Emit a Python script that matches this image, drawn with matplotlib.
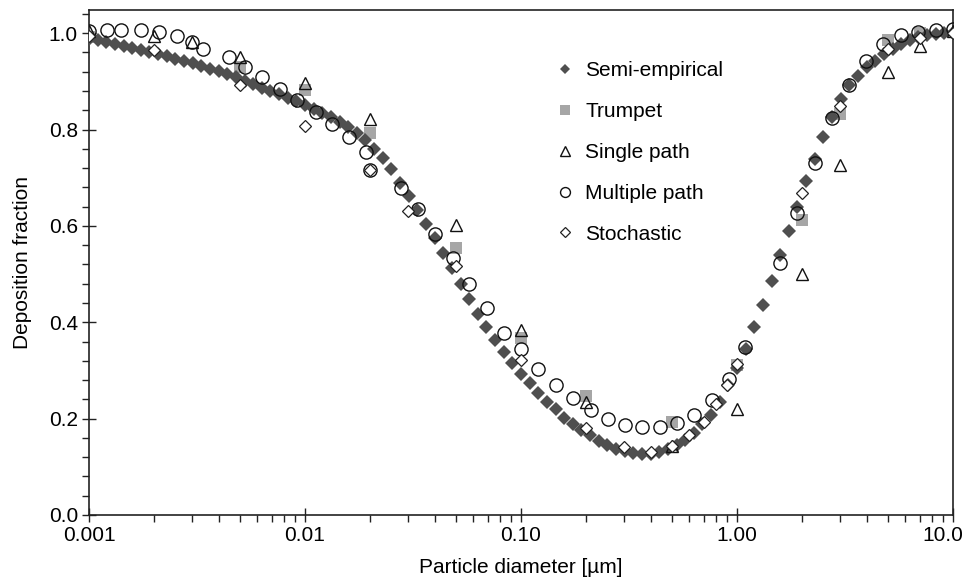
import numpy as np
import matplotlib
matplotlib.use("Agg")
import matplotlib.pyplot as plt
import matplotlib.transforms as mtransforms
from matplotlib.ticker import FixedLocator, FixedFormatter, LogLocator, AutoMinorLocator, NullFormatter

plt.rcParams['font.family'] = ['Liberation Sans', 'DejaVu Sans']

# ---- data ----
semi_x = np.logspace(-3, 1, 101)
semi_y = [0.988, 0.985, 0.981, 0.977, 0.973, 0.969, 0.965, 0.961, 0.956, 0.952,
          0.947, 0.942, 0.937, 0.932, 0.926, 0.921, 0.915, 0.908, 0.901, 0.894,
          0.887, 0.880, 0.873, 0.866, 0.859, 0.851, 0.843, 0.835, 0.826, 0.816,
          0.805, 0.792, 0.778, 0.760, 0.740, 0.717, 0.690, 0.662, 0.633, 0.604,
          0.574, 0.543, 0.512, 0.480, 0.448, 0.418, 0.390, 0.364, 0.339, 0.315,
          0.293, 0.273, 0.254, 0.235, 0.219, 0.202, 0.189, 0.177, 0.166, 0.154,
          0.145, 0.138, 0.132, 0.128, 0.126, 0.127, 0.130, 0.136, 0.145, 0.156,
          0.170, 0.188, 0.208, 0.235, 0.270, 0.305, 0.345, 0.390, 0.435, 0.485,
          0.540, 0.590, 0.640, 0.693, 0.738, 0.784, 0.826, 0.863, 0.892, 0.911,
          0.929, 0.943, 0.957, 0.968, 0.977, 0.986, 0.993, 0.996, 0.999, 1.000,
          1.000]

trumpet_x = [0.001, 0.005, 0.01, 0.02, 0.05, 0.1, 0.2, 0.5, 1.0, 2.0, 3.0, 5.0, 7.0]
trumpet_y = [0.992, 0.930, 0.883, 0.793, 0.555, 0.367, 0.247, 0.194, 0.311, 0.612, 0.833, 0.985, 1.0]

single_x = [0.001, 0.002, 0.003, 0.005, 0.01, 0.02, 0.05, 0.1, 0.2, 0.5, 1.0, 2.0, 3.0, 5.0, 7.0, 10.0]
single_y = [1.005, 0.994, 0.982, 0.951, 0.896, 0.821, 0.602, 0.384, 0.235, 0.143, 0.219, 0.501, 0.726, 0.920, 0.973, 1.005]

multi_x = [0.001, 0.00121, 0.00141, 0.00175, 0.00212, 0.00255, 0.0030, 0.00338, 0.00447,
           0.00527, 0.0063, 0.00766, 0.00916, 0.01125, 0.0133, 0.0160, 0.0192, 0.020,
           0.0277, 0.0335, 0.040, 0.0483, 0.0577, 0.0694, 0.0834, 0.1, 0.12, 0.145,
           0.175, 0.21, 0.252, 0.303, 0.364, 0.44, 0.526, 0.634, 0.763, 0.918, 1.09,
           1.58, 1.89, 2.30, 2.74, 3.31, 3.95, 4.75, 5.72, 6.9, 8.33, 10.0]
multi_y = [1.005, 1.007, 1.007, 1.007, 1.003, 0.995, 0.982, 0.968, 0.950,
           0.930, 0.908, 0.885, 0.862, 0.837, 0.811, 0.784, 0.754, 0.716,
           0.678, 0.634, 0.584, 0.533, 0.479, 0.429, 0.378, 0.344, 0.304, 0.270,
           0.243, 0.218, 0.200, 0.187, 0.182, 0.182, 0.190, 0.207, 0.239, 0.282, 0.349,
           0.522, 0.627, 0.730, 0.823, 0.892, 0.943, 0.977, 0.996, 1.003, 1.007, 1.008]

stoch_x = [0.001, 0.002, 0.005, 0.01, 0.02, 0.03, 0.05, 0.1, 0.2, 0.3, 0.4, 0.5,
           0.6, 0.7, 0.8, 0.9, 1.0, 2.0, 3.0, 5.0, 7.0, 10.0]
stoch_y = [0.995, 0.965, 0.893, 0.808, 0.715, 0.631, 0.517, 0.321, 0.180, 0.142, 0.131, 0.143,
           0.166, 0.194, 0.230, 0.270, 0.314, 0.669, 0.849, 0.968, 0.990, 1.0]

x_tick_vals = [0.001, 0.01, 0.1, 1.0, 10.0]
x_tick_labels = ["0.001", "0.01", "0.10", "1.00", "10.0"]
y_tick_vals = [0.0, 0.2, 0.4, 0.6, 0.8, 1.0]

# ---- figure ----
fig = plt.figure(figsize=(9.7, 5.8), dpi=100)
ax = fig.add_axes([89/970, 1 - 515/580, (953 - 89)/970, (515 - 10)/580])

ax.plot(semi_x, semi_y, linestyle='none', marker='D', markersize=7,
        color='#4f4f4f', markeredgewidth=0, label='Semi-empirical', zorder=3)
ax.plot(trumpet_x, trumpet_y, linestyle='none', marker='s', markersize=9,
        color='#a6a6a6', markeredgewidth=0, label='Trumpet', zorder=2)
ax.plot(single_x, single_y, linestyle='none', marker='^', markersize=9,
        markerfacecolor='none', markeredgecolor='#111111', markeredgewidth=1.0,
        label='Single path', zorder=4)
ax.plot(multi_x, multi_y, linestyle='none', marker='o', markersize=9.5,
        markerfacecolor='none', markeredgecolor='#111111', markeredgewidth=1.0,
        label='Multiple path', zorder=4)
ax.plot(stoch_x, stoch_y, linestyle='none', marker='D', markersize=6.5,
        markerfacecolor='white', markeredgecolor='#222222', markeredgewidth=0.9,
        label='Stochastic', zorder=4)

ax.set_xscale('log')
ax.set_xlim(0.001, 10.0)
ax.set_ylim(0.0, 1.048)

ax.xaxis.set_major_locator(FixedLocator(x_tick_vals))
ax.xaxis.set_major_formatter(FixedFormatter(x_tick_labels))
ax.xaxis.set_minor_locator(LogLocator(base=10, subs=np.arange(2, 10)))
ax.xaxis.set_minor_formatter(NullFormatter())
ax.yaxis.set_major_locator(FixedLocator(y_tick_vals))
ax.set_yticklabels([f"{v:.1f}" for v in y_tick_vals])
ax.yaxis.set_minor_locator(AutoMinorLocator(5))

for s in ax.spines.values():
    s.set_linewidth(1.2)
    s.set_color('#222222')
ax.tick_params(which='major', direction='inout', length=10, width=1.0,
               labelsize=15, color='#222222', pad=3)
ax.tick_params(which='minor', direction='out', length=5, width=1.0, color='#222222')

# shift the last x tick label slightly left so it stays inside the figure
last_lbl = ax.get_xticklabels()[-1]
last_lbl.set_transform(last_lbl.get_transform() +
                       mtransforms.ScaledTranslation(-10/100, 0, fig.dpi_scale_trans))

ax.set_xlabel('Particle diameter [µm]', fontsize=15, labelpad=9)
ax.set_ylabel('Deposition fraction', fontsize=15, labelpad=12)

leg = ax.legend(loc='upper left', bbox_to_anchor=(0.53, 0.915), frameon=False,
                fontsize=15, labelspacing=1.05, handletextpad=0.55,
                markerscale=0.75, handlelength=0.9, borderaxespad=0)

fig.savefig('out.png', dpi=100)
